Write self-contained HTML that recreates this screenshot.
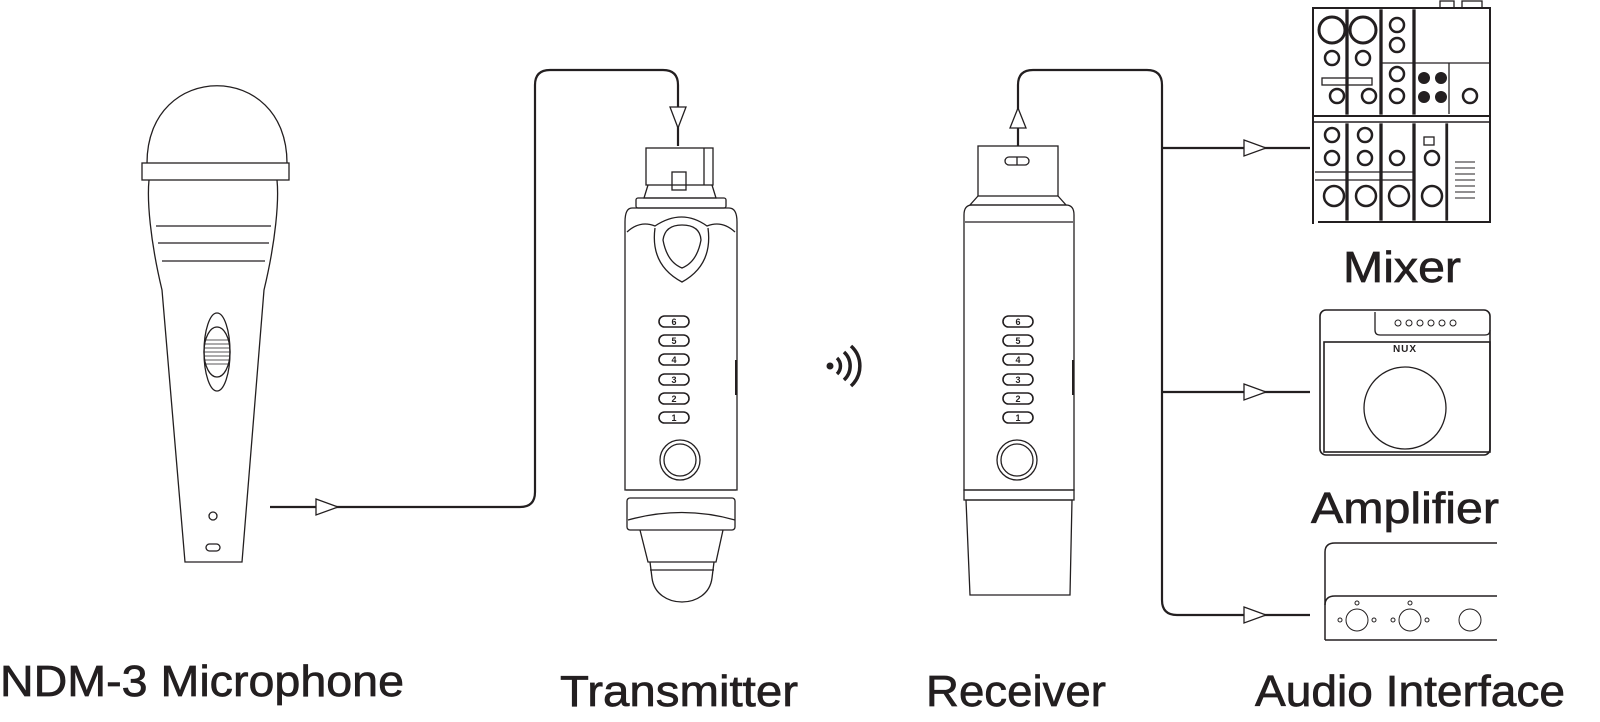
<!DOCTYPE html>
<html><head><meta charset="utf-8"><style>
html,body{margin:0;padding:0;background:#fff;overflow:hidden;width:1600px;height:722px}
svg{display:block}
text{font-family:"Liberation Sans",sans-serif;fill:#231f20}
.lbl{stroke:#231f20;stroke-width:0.7}
</style></head><body>
<svg width="1600" height="722" viewBox="0 0 1600 722" xmlns="http://www.w3.org/2000/svg">
<g fill="none" stroke="#231f20" stroke-width="1.3">
<!-- Microphone -->
<path d="M147,163 C147,60 287,60 287,163"/>
<rect x="142" y="163" width="147" height="17"/>
<path d="M149,180 C147,200 150,240 162,290 L185,562 L242,562 L264,290 C276,240 279,200 277,180"/>
<line x1="156" y1="226" x2="271" y2="226"/>
<line x1="158" y1="243" x2="269" y2="243"/>
<line x1="162" y1="261" x2="265" y2="261"/>
<ellipse cx="217" cy="352" rx="13" ry="39"/>
<ellipse cx="217" cy="352" rx="13" ry="25"/>
<g stroke-width="0.8"><line x1="204" y1="340" x2="230" y2="340"/><line x1="204" y1="344" x2="230" y2="344"/><line x1="204" y1="348" x2="230" y2="348"/><line x1="204" y1="352" x2="230" y2="352"/><line x1="204" y1="356" x2="230" y2="356"/><line x1="204" y1="360" x2="230" y2="360"/><line x1="204" y1="364" x2="230" y2="364"/></g>
<circle cx="213" cy="516" r="4"/>
<rect x="206" y="544" width="14" height="7" rx="3.5"/>

<!-- Cable mic -> transmitter -->
<path d="M270,507 L520,507 Q535,507 535,492 L535,85 Q535,70 550,70 L663,70 Q678,70 678,85 L678,146" stroke-width="2.2"/>
<path d="M316,499 L338,507 L316,515 Z" fill="#fff"/>
<path d="M670,107 L678,128 L686,107 Z" fill="#fff"/>

<!-- Transmitter -->
<rect x="646" y="148" width="67" height="37"/>
<line x1="704" y1="148" x2="704" y2="185"/>
<rect x="672" y="172" width="14" height="18"/>
<path d="M648,185 L644,198 L716,198 L712,185"/>
<rect x="636" y="198" width="90" height="10" rx="2"/>
<path d="M632,208 L729,208 Q737,208 737,222 L737,490 L625,490 L625,222 Q625,208 632,208 Z"/>
<path d="M627,232 Q640,220 655,226 Q682,208 707,226 Q722,220 735,232"/>
<path d="M655,228 Q650,265 682,282 Q713,265 708,228"/>
<path d="M663,240 Q665,225 682,225 Q700,225 701,240 Q697,262 682,268 Q667,262 663,240 Z"/>
<line x1="626" y1="490" x2="736" y2="490"/>
<rect x="627" y="498" width="108" height="32" rx="3"/>
<path d="M628,520 Q682,505 735,520"/>
<path d="M640,530 L648,562 L716,562 L723,530"/>
<line x1="650" y1="570" x2="714" y2="570"/>
<path d="M650,562 L652,578 C656,610 708,610 712,578 L714,562"/>
<circle cx="680" cy="460" r="20"/><circle cx="680" cy="460" r="16"/>
<line x1="736" y1="360" x2="736" y2="395" stroke-width="2"/>

<!-- Receiver -->
<rect x="978" y="146" width="80" height="50"/>
<rect x="1005" y="157" width="24" height="8" rx="4"/>
<line x1="1017" y1="157" x2="1017" y2="165"/>
<path d="M978,196 L970,205 L1066,205 L1058,196"/>
<path d="M972,205 L1066,205 Q1074,205 1074,215 L1074,490 L964,490 L964,215 Q964,205 972,205 Z"/>
<line x1="965" y1="222" x2="1073" y2="222"/>
<rect x="964" y="490" width="110" height="10"/>
<path d="M966,500 L1072,500 L1070,595 L970,595 Z"/>
<circle cx="1017" cy="460" r="20"/><circle cx="1017" cy="460" r="16"/>
<line x1="1073" y1="360" x2="1073" y2="395" stroke-width="2"/>

<!-- Receiver cables -->
<path d="M1018,146 L1018,85 Q1018,70 1033,70 L1147,70 Q1162,70 1162,85 L1162,600 Q1162,615 1177,615 L1310,615" stroke-width="2.2"/>
<path d="M1162,148 L1310,148 M1162,392 L1310,392" stroke-width="2.2"/>
<path d="M1010,128 L1018,108 L1026,128 Z" fill="#fff"/>
<path d="M1244,140 L1266,148 L1244,156 Z" fill="#fff"/>
<path d="M1244,384 L1266,392 L1244,400 Z" fill="#fff"/>
<path d="M1244,607 L1266,615 L1244,623 Z" fill="#fff"/>

<!-- Mixer -->
<path d="M1313,224 L1313,8 L1490,8 L1490,222 L1318,222" stroke-width="2"/>
<line x1="1313" y1="116" x2="1490" y2="116" stroke-width="2"/>
<line x1="1313" y1="122" x2="1490" y2="122" stroke-width="1.5"/>
<rect x="1346" y="10" width="2" height="104" fill="#231f20"/>
<rect x="1380" y="10" width="2" height="104" fill="#231f20"/>
<rect x="1413" y="10" width="2" height="104" fill="#231f20"/>
<line x1="1415" y1="63" x2="1490" y2="63"/>
<line x1="1381" y1="63" x2="1413" y2="63"/>
<line x1="1449" y1="63" x2="1449" y2="114"/>
<circle cx="1363" cy="30" r="13" stroke-width="3"/><circle cx="1332" cy="30" r="13" stroke-width="3"/>
<circle cx="1332" cy="58" r="7" stroke-width="2.5"/><circle cx="1363" cy="58" r="7" stroke-width="2.5"/>
<circle cx="1397" cy="25" r="7" stroke-width="2.5"/><circle cx="1397" cy="45" r="7" stroke-width="2.5"/>
<circle cx="1397" cy="74" r="7" stroke-width="2.5"/><circle cx="1397" cy="96" r="7" stroke-width="2.5"/>
<circle cx="1337" cy="96" r="7" stroke-width="2.5"/><circle cx="1369" cy="96" r="7" stroke-width="2.5"/>
<rect x="1322" y="78" width="50" height="7"/>
<g fill="#231f20" stroke="none"><circle cx="1424" cy="78" r="6"/><circle cx="1441" cy="78" r="6"/><circle cx="1424" cy="97" r="6"/><circle cx="1441" cy="97" r="6"/></g>
<circle cx="1470" cy="96" r="7" stroke-width="2.5"/>
<rect x="1346" y="124" width="2" height="96" fill="#231f20"/><rect x="1380" y="124" width="2" height="96" fill="#231f20"/><rect x="1413" y="124" width="2" height="96" fill="#231f20"/><rect x="1446" y="124" width="1.5" height="96" fill="#231f20"/>
<line x1="1315" y1="172" x2="1413" y2="172"/><line x1="1315" y1="180" x2="1413" y2="180"/>
<g stroke-width="2.5"><circle cx="1332" cy="135" r="7"/><circle cx="1365" cy="135" r="7"/><circle cx="1332" cy="158" r="7"/><circle cx="1365" cy="158" r="7"/><circle cx="1397" cy="158" r="7"/><circle cx="1432" cy="158" r="7"/>
<circle cx="1334" cy="196" r="10"/><circle cx="1366" cy="196" r="10"/><circle cx="1399" cy="196" r="10"/><circle cx="1432" cy="196" r="10"/></g>
<rect x="1424" y="137" width="10" height="8"/>
<g stroke-width="1"><line x1="1455" y1="162" x2="1475" y2="162"/><line x1="1455" y1="168" x2="1475" y2="168"/><line x1="1455" y1="174" x2="1475" y2="174"/><line x1="1455" y1="180" x2="1475" y2="180"/><line x1="1455" y1="186" x2="1475" y2="186"/><line x1="1455" y1="192" x2="1475" y2="192"/><line x1="1455" y1="198" x2="1475" y2="198"/></g>
<rect x="1440" y="1" width="14" height="7"/><rect x="1462" y="1" width="20" height="7"/>

<!-- Amplifier -->
<rect x="1320" y="310" width="170" height="145" rx="6" stroke-width="1.6"/>
<rect x="1324" y="342" width="166" height="110" stroke-width="1.6"/>
<path d="M1375,312 L1375,330 Q1375,335 1380,335 L1485,335 Q1490,335 1490,330" stroke-width="1.3"/>
<g stroke-width="1"><circle cx="1398" cy="323" r="3"/><circle cx="1409" cy="323" r="3"/><circle cx="1420" cy="323" r="3"/><circle cx="1431" cy="323" r="3"/><circle cx="1442" cy="323" r="3"/><circle cx="1453" cy="323" r="3"/></g>
<circle cx="1405" cy="408" r="41"/>

<!-- Audio interface -->
<path d="M1325,640 L1325,552 Q1325,543 1335,543 L1497,543" stroke-width="1.5"/>
<path d="M1325,640 L1497,640 M1325,605 Q1325,596 1335,596 L1497,596" stroke-width="1.5"/>
<g stroke-width="1"><circle cx="1357" cy="620" r="11"/><circle cx="1410" cy="620" r="11"/><circle cx="1470" cy="620" r="11"/>
<circle cx="1357" cy="603" r="2"/><circle cx="1410" cy="603" r="2"/>
<circle cx="1340" cy="620" r="2"/><circle cx="1374" cy="620" r="2"/><circle cx="1393" cy="620" r="2"/><circle cx="1427" cy="620" r="2"/></g>
</g>

<!-- LED labels -->
<g fill="none" stroke="#231f20" stroke-width="1.6">
<rect x="659" y="316" width="30" height="11" rx="5.5"/><rect x="659" y="335" width="30" height="11" rx="5.5"/><rect x="659" y="354" width="30" height="11" rx="5.5"/><rect x="659" y="374" width="30" height="11" rx="5.5"/><rect x="659" y="393" width="30" height="11" rx="5.5"/><rect x="659" y="412" width="30" height="11" rx="5.5"/>
<rect x="1003" y="316" width="30" height="11" rx="5.5"/><rect x="1003" y="335" width="30" height="11" rx="5.5"/><rect x="1003" y="354" width="30" height="11" rx="5.5"/><rect x="1003" y="374" width="30" height="11" rx="5.5"/><rect x="1003" y="393" width="30" height="11" rx="5.5"/><rect x="1003" y="412" width="30" height="11" rx="5.5"/>
</g>
<g font-size="9" text-anchor="middle" font-weight="bold">
<text x="674" y="325">6</text><text x="674" y="344">5</text><text x="674" y="363">4</text><text x="674" y="383">3</text><text x="674" y="402">2</text><text x="674" y="421">1</text>
<text x="1018" y="325">6</text><text x="1018" y="344">5</text><text x="1018" y="363">4</text><text x="1018" y="383">3</text><text x="1018" y="402">2</text><text x="1018" y="421">1</text>
</g>
<text x="1405" y="352" font-size="10" text-anchor="middle" font-weight="bold" letter-spacing="1">NUX</text>

<!-- wireless -->
<circle cx="830" cy="366" r="3.5" fill="#231f20"/>
<g fill="none" stroke="#231f20" stroke-width="3.5">
<path d="M837,358 A11,11 0 0 1 837,374"/>
<path d="M844,352 A19,19 0 0 1 844,380"/>
<path d="M851,346 A27,27 0 0 1 851,386"/>
</g>

<!-- labels -->
<g font-size="44" class="lbl">
<text x="0" y="696" textLength="404" lengthAdjust="spacingAndGlyphs">NDM-3 Microphone</text>
<text x="560" y="706" textLength="238" lengthAdjust="spacingAndGlyphs">Transmitter</text>
<text x="926" y="706" textLength="180" lengthAdjust="spacingAndGlyphs">Receiver</text>
<text x="1255" y="706" textLength="310" lengthAdjust="spacingAndGlyphs">Audio Interface</text>
<text x="1343" y="282" textLength="118" lengthAdjust="spacingAndGlyphs">Mixer</text>
<text x="1311" y="523" textLength="188" lengthAdjust="spacingAndGlyphs">Amplifier</text>
</g>
</svg>
</body></html>
